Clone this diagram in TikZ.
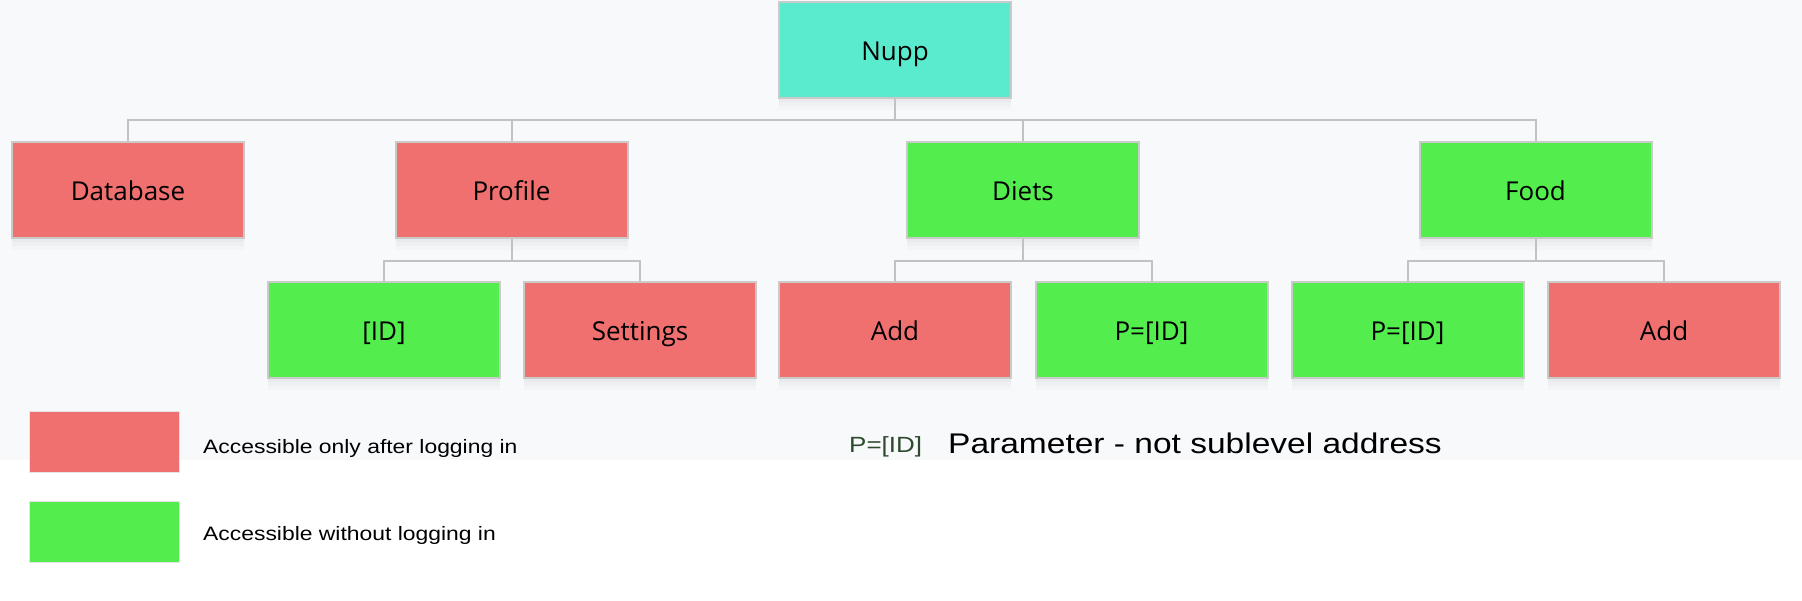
\documentclass[tikz,border=0pt]{standalone}
\usepackage{fontspec}
\setmainfont{Open Sans}
\newfontfamily\legfont[FakeStretch=1.18]{Liberation Sans}
\definecolor{bgc}{HTML}{F8F9FB}
\definecolor{redc}{HTML}{F07070}
\definecolor{greenc}{HTML}{53EE4E}
\definecolor{cyanc}{HTML}{5AEBCE}
\definecolor{bordc}{HTML}{CACACA}
\definecolor{connc}{HTML}{C2C2C2}
\definecolor{paramc}{HTML}{2E4A2E}
\begin{document}
\begin{tikzpicture}[x=1pt,y=-1pt,
  box/.style={draw=bordc, line width=2pt, minimum width=232pt, minimum height=96pt,
    inner sep=0pt, text height=22pt, text depth=0pt, font=\fontsize{26}{30}\selectfont,
    preaction={fill=black, fill opacity=0.025, transform canvas={yshift=-4pt}},
    preaction={fill=black, fill opacity=0.02, transform canvas={yshift=-8pt}},
    preaction={fill=black, fill opacity=0.015, transform canvas={yshift=-12pt}}},
  redbox/.style={box, fill=redc},
  greenbox/.style={box, fill=greenc},
  cyanbox/.style={box, fill=cyanc},
  conn/.style={draw=connc, line width=2pt},
  legbox/.style={draw=black!10, line width=1pt, minimum width=150pt, minimum height=61pt, inner sep=0pt},
  legtext/.style={anchor=base west, inner sep=0pt, font=\legfont\fontsize{19.4}{22}\selectfont}
]
\useasboundingbox (0,0) rectangle (1802,600);
\fill[bgc] (0,0) rectangle (1802,460);
% nodes
\node[cyanbox] (nupp) at (895,49.5) {Nupp};
\node[redbox] (db) at (128,189.5) {Database};
\node[redbox] (prof) at (511.5,189.5) {Profile};
\node[greenbox] (diets) at (1023,189.5) {Diets};
\node[greenbox] (food) at (1535.5,189.5) {Food};
\node[greenbox] (id) at (384,329.5) {[ID]};
\node[redbox] (sett) at (640,329.5) {Settings};
\node[redbox] (dadd) at (895,329.5) {Add};
\node[greenbox] (dpid) at (1151.5,329.5) {P=[ID]};
\node[greenbox] (fpid) at (1407.5,329.5) {P=[ID]};
\node[redbox] (fadd) at (1664,329.5) {Add};
% connectors
\draw[conn] (nupp.south) -- ++(0,21) -| (db.north);
\draw[conn] (nupp.south) -- ++(0,21) -| (prof.north);
\draw[conn] (nupp.south) -- ++(0,21) -| (diets.north);
\draw[conn] (nupp.south) -- ++(0,21) -| (food.north);
\draw[conn] (prof.south) -- ++(0,22) -| (id.north);
\draw[conn] (prof.south) -- ++(0,22) -| (sett.north);
\draw[conn] (diets.south) -- ++(0,22) -| (dadd.north);
\draw[conn] (diets.south) -- ++(0,22) -| (dpid.north);
\draw[conn] (food.south) -- ++(0,22) -| (fpid.north);
\draw[conn] (food.south) -- ++(0,22) -| (fadd.north);
% legend
\node[legbox, fill=redc] (lred) at (104.5,442) {};
\node[legbox, fill=greenc] (lgreen) at (104.5,532) {};
\node[legtext] (tred) at (203,453) {Accessible only after logging in};
\node[legtext] (tgreen) at (203,540) {Accessible without logging in};
\node[anchor=base west, inner sep=0pt, text=paramc, font=\legfont\fontsize{22}{26}\selectfont] (pkey) at (849,452) {P=[ID]};
\node[anchor=base west, inner sep=0pt, font=\legfont\fontsize{28.4}{34}\selectfont] (pdesc) at (948,453) {Parameter - not sublevel address};
\end{tikzpicture}
\end{document}
